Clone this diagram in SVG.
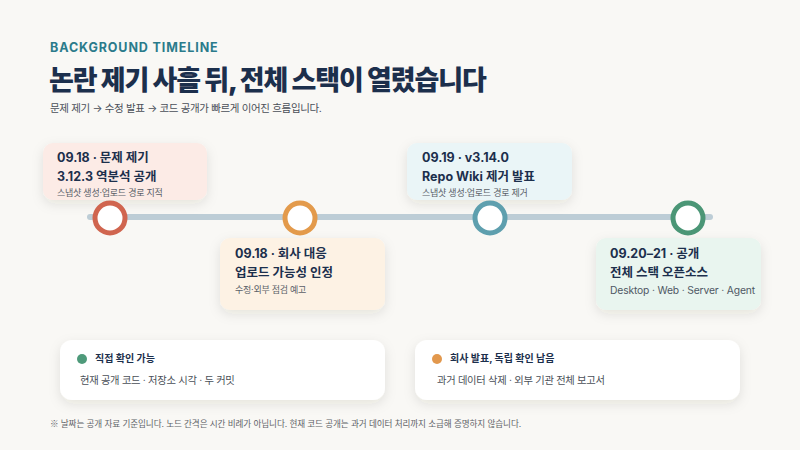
<svg xmlns="http://www.w3.org/2000/svg" width="800" height="450" viewBox="0 0 800 450">
<defs>
<filter id="sh" x="-20%" y="-30%" width="140%" height="170%">
<feDropShadow dx="0" dy="4" stdDeviation="6" flood-color="#3a3020" flood-opacity="0.10"/>
</filter>
<style>
text{font-family:"Inter","Noto Sans CJK KR","Noto Sans",sans-serif;}
.eyebrow{font-size:12.5px;font-weight:700;fill:#2b7b8b;letter-spacing:0.9px;}
.title{font-size:27px;font-weight:900;fill:#1c2f4c;letter-spacing:-1.1px;}
.sub{font-size:10.5px;fill:#4a4f58;letter-spacing:-0.35px;}
.h{font-size:12.5px;font-weight:700;fill:#1c2f4c;}
.d{font-size:9px;fill:#5a5f68;letter-spacing:-0.25px;}
.dl{font-size:10.3px;fill:#4f5864;letter-spacing:-0.15px;}
.lt{font-size:10px;font-weight:700;fill:#1c2f4c;}
.ls{font-size:10.3px;fill:#4a4f58;letter-spacing:-0.3px;}
.foot{font-size:8.6px;fill:#5f6368;letter-spacing:-0.1px;}
.cjk{font-family:"Noto Sans CJK KR",sans-serif;}
.ring{fill:#ffffff;stroke-width:5;}
.card{filter:url(#sh);}
</style>
</defs>
<rect width="800" height="450" fill="#f9f8f5"/>
<g id="header">
<text class="eyebrow" x="50" y="52">BACKGROUND TIMELINE</text>
<text class="title" x="49" y="90">논란 제기 사흘 뒤, 전체 스택이 열렸습니다</text>
<text class="sub" x="50" y="112">문제 제기 → 수정 발표 → 코드 공개가 빠르게 이어진 흐름입니다.</text>
</g>
<g id="connectors">
<line x1="90" y1="217" x2="710" y2="217" stroke="#bdcdd6" stroke-width="6" stroke-linecap="round"/>
</g>
<g id="e1">
<rect class="card" x="43" y="143" width="164" height="57" rx="10" fill="#fcebe6"/>
<text class="h" x="57" y="162">09.18 · 문제 제기</text>
<text class="h" x="57" y="181">3.12.3 역분석 공개</text>
<text class="d" x="57" y="196">스냅샷 생성·업로드 경로 지적</text>
<circle class="ring" cx="110" cy="218" r="15" stroke="#d0654f"/>
</g>
<g id="e2">
<rect class="card" x="220" y="238" width="165" height="72" rx="10" fill="#fdf2e4"/>
<text class="h" x="235" y="258">09.18 · 회사 대응</text>
<text class="h" x="235" y="277">업로드 가능성 인정</text>
<text class="d" x="235" y="293">수정·외부 점검 예고</text>
<circle class="ring" cx="300" cy="218" r="15" stroke="#e39a4b"/>
</g>
<g id="e3">
<rect class="card" x="407" y="143" width="165" height="57" rx="10" fill="#eaf5f7"/>
<text class="h" x="422" y="162">09.19 · v3.14.0</text>
<text class="h" x="422" y="181">Repo Wiki 제거 발표</text>
<text class="d" x="422" y="196">스냅샷 생성·업로드 경로 제거</text>
<circle class="ring" cx="490" cy="218" r="15" stroke="#5e9fae"/>
</g>
<g id="e4">
<rect class="card" x="596" y="238" width="165" height="72" rx="10" fill="#e9f5ef"/>
<text class="h" x="610" y="258">09.20–21 · 공개</text>
<text class="h" x="610" y="277">전체 스택 오픈소스</text>
<text class="dl" x="610" y="294">Desktop · Web · Server · Agent</text>
<circle class="ring" cx="688" cy="218" r="15" stroke="#4b9676"/>
</g>
<g id="legend1">
<rect class="card" x="60" y="340" width="325" height="60" rx="12" fill="#ffffff"/>
<circle cx="82" cy="359" r="5" fill="#4e9a7a"/>
<text class="lt" x="95" y="362">직접 확인 가능</text>
<text class="ls" x="80" y="384">현재 공개 코드 · 저장소 시각 · 두 커밋</text>
</g>
<g id="legend2">
<rect class="card" x="415" y="340" width="325" height="60" rx="12" fill="#ffffff"/>
<circle cx="437" cy="359" r="5" fill="#e2984d"/>
<text class="lt" x="450" y="362">회사 발표, 독립 확인 남음</text>
<text class="ls" x="437" y="384">과거 데이터 삭제 · 외부 기관 전체 보고서</text>
</g>
<g id="footnote">
<text class="foot" x="50" y="427"><tspan class="cjk">※</tspan> 날짜는 공개 자료 기준입니다. 노드 간격은 시간 비례가 아닙니다. 현재 코드 공개는 과거 데이터 처리까지 소급해 증명하지 않습니다.</text>
</g>
</svg>
